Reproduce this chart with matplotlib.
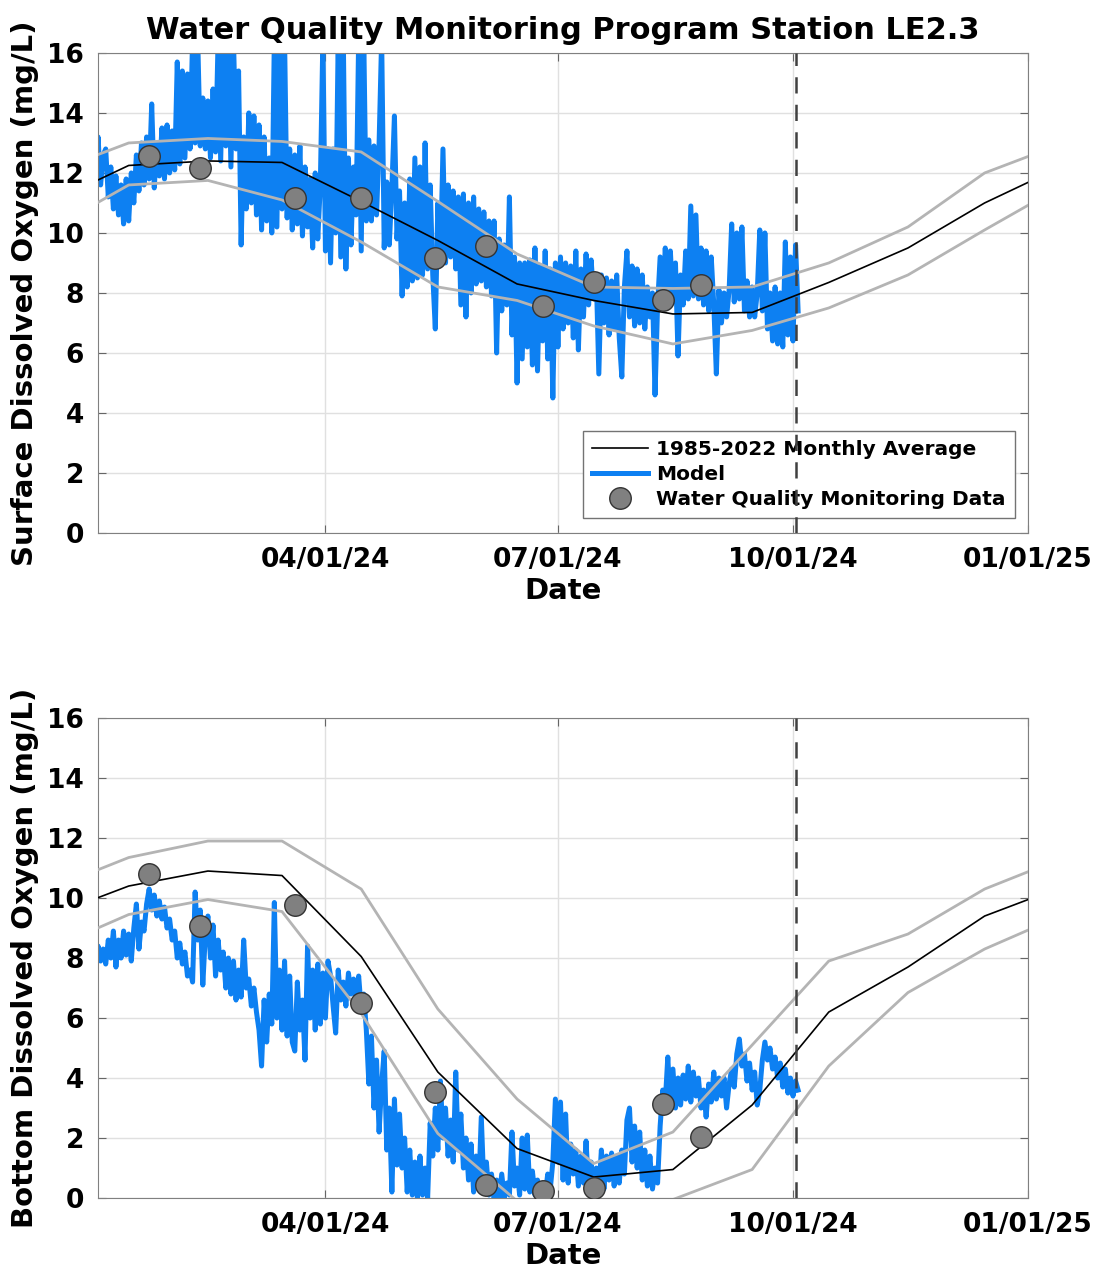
import numpy as np
import pandas as pd
from matplotlib import pyplot as plt
import matplotlib.dates as mdates

plt.rcParams['font.family'] = ['DejaVu Sans']
plt.rcParams['font.weight'] = 'bold'

# monthly climatology, plotted on the 15th (Dec 2023 .. Jan 2025 so lines reach the edges)
month_dates = pd.to_datetime(['2023-12-15', '2024-01-15', '2024-02-15', '2024-03-15',
                              '2024-04-15', '2024-05-15', '2024-06-15', '2024-07-15',
                              '2024-08-15', '2024-09-15', '2024-10-15', '2024-11-15',
                              '2024-12-15', '2025-01-15'])

surf_avg = [11.0, 12.25, 12.4, 12.35, 11.05, 9.75, 8.3, 7.75, 7.3, 7.35, 8.35, 9.5, 11.0, 12.25]
surf_hi = [12.0, 13.0, 13.15, 13.05, 12.7, 11.05, 9.3, 8.2, 8.15, 8.2, 9.0, 10.2, 12.0, 13.0]
surf_lo = [10.1, 11.6, 11.75, 11.1, 9.7, 8.2, 7.75, 6.9, 6.3, 6.75, 7.5, 8.6, 10.1, 11.6]

bot_avg = [9.4, 10.4, 10.9, 10.75, 8.05, 4.2, 1.65, 0.7, 0.95, 3.1, 6.2, 7.7, 9.4, 10.4]
bot_hi = [10.3, 11.35, 11.9, 11.9, 10.3, 6.3, 3.3, 1.15, 2.2, 5.1, 7.9, 8.8, 10.3, 11.35]
bot_lo = [8.3, 9.45, 9.95, 9.55, 6.15, 2.15, -0.1, -0.6, -0.05, 0.95, 4.4, 6.85, 8.3, 9.45]

# monitoring cruises
obs_dates = pd.to_datetime(['2024-01-23', '2024-02-12', '2024-03-20', '2024-04-15',
                            '2024-05-14', '2024-06-03', '2024-06-25', '2024-07-15',
                            '2024-08-11', '2024-08-26'])
surf_obs = [12.55, 12.17, 11.17, 11.17, 9.17, 9.58, 7.58, 8.37, 7.78, 8.28]
bot_obs = [10.81, 9.08, 9.78, 6.49, 3.52, 0.44, 0.25, 0.33, 3.14, 2.03]

# model output, one value per day from 01/01/24
surf_model = [13.6, 12.0, 13.2, 11.6, 12.6, 12.8, 11.2, 12.2, 10.8, 11.9, 10.6,
              11.6, 10.3, 11.8, 10.4, 12.0, 11.0, 12.6, 11.4, 13.0, 11.6,
              13.2, 11.8, 14.3, 11.5, 13.0, 11.9, 13.5, 11.8, 13.6, 12.0,
              13.4, 12.1, 15.7, 12.3, 15.4, 12.5, 15.3, 12.8, 16.5, 13.0,
              16.5, 12.9, 14.5, 12.8, 14.4, 12.5, 14.8, 12.7, 16.5, 12.4,
              16.5, 12.9, 16.5, 12.2, 16.5, 12.8, 15.4, 9.6, 13.2, 10.8,
              14.0, 11.0, 13.9, 10.6, 13.6, 10.1, 13.2, 10.4, 12.5, 10.0,
              16.5, 10.2, 16.5, 10.8, 16.5, 10.5, 12.8, 10.1, 12.6, 10.3,
              12.9, 9.9, 12.2, 10.2, 11.8, 9.5, 12.0, 9.8, 11.6, 16.5, 9.4, 12.8,
              9.0, 12.8, 10.0, 16.5, 9.2, 16.5, 8.8, 12.5, 9.6, 12.2,
              10.6, 16.5, 9.4, 16.5, 10.4, 13.1, 10.4, 12.9, 10.6, 13.0,
              16.5, 9.5, 11.7, 9.6, 11.5, 13.9, 9.8, 11.4, 7.9, 11.0,
              8.2, 11.8, 8.4, 12.5, 8.5, 12.2, 8.6, 13.0, 8.8, 11.6,
              8.6, 6.8, 11.0, 9.0, 12.8, 9.0, 11.6, 9.2, 11.4, 8.8,
              11.2, 7.6, 11.3, 7.2, 11.0, 8.0, 11.2, 8.3, 10.8, 8.4,
              10.7, 8.2, 10.4, 7.9, 10.4, 6.0, 9.8, 7.4, 9.6, 7.6,
              11.2, 6.6, 9.2, 5.0, 9.0, 5.8, 9.0, 6.2, 9.1, 5.6,
              9.5, 5.4, 8.9, 6.4, 9.4, 5.8, 8.8, 4.5, 9.0, 6.2,
              9.2, 6.8, 9.0, 7.0, 8.9, 6.5, 9.4, 6.1, 8.8, 7.2,
              9.3, 7.6, 9.1, 7.8, 8.6, 5.3, 8.6, 7.0, 8.5, 6.6,
              8.4, 6.8, 8.6, 6.5, 5.2, 8.2, 9.4, 7.2, 8.9, 6.9,
              8.8, 7.0, 8.6, 6.8, 8.2, 7.2, 8.0, 4.6, 7.6, 9.2,
              7.6, 9.5, 7.8, 9.4, 7.7, 9.0, 5.9, 8.6, 7.6, 9.4,
              7.8, 10.9, 7.9, 10.6, 7.8, 9.5, 7.6, 9.4, 7.4, 9.2,
              7.6, 5.3, 8.1, 7.0, 8.0, 7.2, 8.1, 10.3, 7.7, 10.0,
              7.8, 10.2, 7.4, 8.4, 7.2, 8.2, 7.2, 8.0, 10.1, 7.4,
              10.0, 6.8, 8.0, 6.4, 8.2, 6.3, 8.0, 6.2, 9.7, 6.6,
              9.2, 6.4, 9.6, 7.4]

bot_model = [8.2, 7.7, 8.4, 7.9, 8.3, 7.8, 8.6, 8.0, 8.9, 7.7,
             8.6, 8.0, 8.9, 8.1, 8.8, 7.9, 9.0, 9.8, 8.3, 9.2,
             8.9, 9.8, 10.3, 9.6, 10.1, 9.4, 9.9, 9.3, 9.7, 9.0,
             9.3, 8.6, 8.9, 8.0, 8.5, 7.8, 8.2, 7.4, 7.6, 7.2,
             10.2, 8.6, 9.6, 7.1, 8.8, 9.4, 8.0, 9.1, 7.4, 8.6,
             7.6, 8.2, 7.0, 8.0, 6.8, 7.9, 6.6, 7.6, 6.7, 8.6,
             7.0, 7.3, 6.4, 7.0, 6.2, 5.6, 4.4, 6.6, 5.2, 6.8,
             5.8, 9.85, 6.0, 7.6, 5.6, 7.9, 5.4, 7.4, 5.2, 4.9,
             7.2, 5.6, 6.6, 4.6, 8.4, 6.0, 7.6, 5.6, 7.8, 5.8,
             7.5, 6.0, 7.9,
             7.4, 6.4, 5.5, 7.6, 6.6, 7.2, 6.4, 7.5, 6.8, 7.3,
             6.6, 7.4, 6.3, 6.8, 5.6, 3.8, 5.4, 3.0, 4.6, 2.2,
             3.8, 4.9, 1.6, 3.0, 0.2, 3.3, 1.1, 2.8, 1.0, 2.0,
             0.2, 1.6, 0.1, 1.2, 0.0, 1.4, 0.1, 1.0, 0.0, 2.5,
             1.4, 3.0, 1.6, 3.9, 2.0, 3.0, 1.4, 2.6, 1.2, 4.2,
             1.6, 2.8, 1.0, 2.0, 0.6, 1.8, 0.2, 1.4, 0.3, 2.7,
             0.4, 1.2, 0.1, 0.8, 0.0, 0.6, 0.0, 0.8, 0.0, 0.5,
             0.1, 2.2, 0.4, 1.0, 0.1, 2.0, 0.3, 2.1, 0.2, 0.9,
             0.1, 0.6, 0.0, 0.5, 0.1, 0.8, 0.3, 1.2, 3.3, 1.2,
             3.2, 0.6, 2.8, 0.5, 1.8, 0.8, 1.6, 0.4, 1.4, 0.5,
             1.9, 0.3, 1.2, 0.1, 1.0, 0.2, 1.6, 0.3, 1.4, 0.6,
             1.5, 0.4, 1.4, 0.5, 1.6, 0.8, 2.6, 3.0, 1.2, 2.4,
             1.0, 2.2, 0.6, 1.6, 0.4, 1.4, 0.3, 1.0, 0.5, 2.4,
             3.6, 3.2, 4.7, 3.0, 4.3, 3.0, 4.0, 3.1, 4.1, 3.3,
             4.4, 3.2, 4.2, 3.4, 4.0, 3.0, 3.6, 2.7, 3.8, 3.2,
             4.2, 3.3, 4.0, 3.4, 4.0, 3.0, 3.8, 4.3, 3.7, 4.8,
             5.3, 4.4, 4.8, 3.9, 4.5, 3.6, 4.2, 3.1, 3.6, 4.6,
             5.2, 4.6, 5.0, 4.3, 4.7, 4.0, 4.5, 3.7, 4.3, 3.5,
             4.0, 3.4, 3.9, 3.6]

model_start = '2024-01-01'
now_line = pd.Timestamp('2024-10-02')
xticks = pd.to_datetime(['2024-04-01', '2024-07-01', '2024-10-01', '2025-01-01'])

blue = '#0d80f2'
band_gray = '#b4b4b4'


def draw_panel(ax, avg, hi, lo, model, obs, ylabel):
    model_dates = pd.date_range(model_start, periods=len(model), freq='D')

    ax.plot(model_dates, model, color=blue, lw=3.6, zorder=2, label='Model')
    ax.plot(month_dates, hi, color=band_gray, lw=2, zorder=3)
    ax.plot(month_dates, lo, color=band_gray, lw=2, zorder=3)
    ax.plot(month_dates, avg, color='k', lw=1.2, zorder=4, label='1985-2022 Monthly Average')
    ax.plot(obs_dates, obs, 'o', ms=15.5, mfc=(0.5, 0.5, 0.5), mec=(0.2, 0.2, 0.2),
            mew=1, zorder=5, label='Water Quality Monitoring Data')
    ax.axvline(now_line, color=(0.25, 0.25, 0.25), lw=1.8, ls=(0, (6.5, 4.5)), zorder=6)

    ax.set_xlim(pd.Timestamp('2024-01-03'), pd.Timestamp('2025-01-01'))
    ax.set_ylim(0, 16)
    ax.set_yticks(np.arange(0, 17, 2))
    ax.set_xticks(xticks)
    ax.xaxis.set_major_formatter(mdates.DateFormatter('%m/%d/%y'))

    ax.grid(True, color=(0.88, 0.88, 0.88), lw=1, zorder=0)
    ax.set_axisbelow(True)
    for s in ax.spines.values():
        s.set_color((0.5, 0.5, 0.5))
    ax.tick_params(direction='in', length=6, color=(0.4, 0.4, 0.4), labelsize=19, pad=10,
                   top=True, right=True)
    for lab in ax.get_xticklabels() + ax.get_yticklabels():
        lab.set_fontweight('bold')

    ax.set_xlabel('Date', fontsize=21, fontweight='bold', labelpad=3)
    ax.set_ylabel(ylabel, fontsize=21, fontweight='bold', labelpad=6)


fig = plt.figure(figsize=(10.98, 12.79), dpi=100)
ax1 = fig.add_axes([0.0893, 0.5833, 0.847, 0.3753])
ax2 = fig.add_axes([0.0893, 0.0633, 0.847, 0.3753])

draw_panel(ax1, surf_avg, surf_hi, surf_lo, surf_model, surf_obs,
           'Surface Dissolved Oxygen (mg/L)')
draw_panel(ax2, bot_avg, bot_hi, bot_lo, bot_model, bot_obs,
           'Bottom Dissolved Oxygen (mg/L)')

ax1.set_title('Water Quality Monitoring Program Station LE2.3', fontsize=22,
              fontweight='bold', pad=10)

h, l = ax1.get_legend_handles_labels()
order = [1, 0, 2]
leg = ax1.legend([h[i] for i in order], [l[i] for i in order], loc='lower right',
                 bbox_to_anchor=(0.986, 0.031), borderaxespad=0, fontsize=14.5,
                 fancybox=False, framealpha=1, edgecolor=(0.45, 0.45, 0.45),
                 handlelength=2.8, handletextpad=0.4, labelspacing=0.3,
                 borderpad=0.45)
for t in leg.get_texts():
    t.set_fontweight('bold')

fig.savefig('out.png', dpi=100)
